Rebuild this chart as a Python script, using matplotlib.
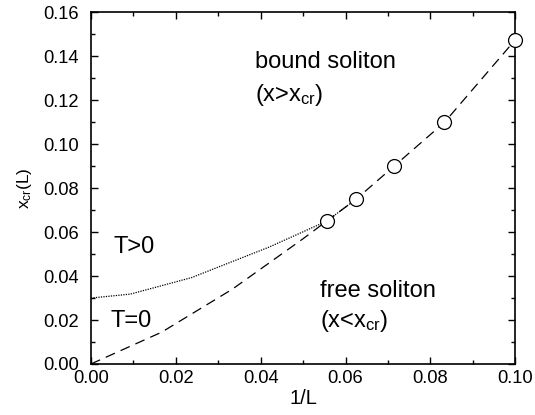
import numpy as np
import matplotlib
matplotlib.use("Agg")
import matplotlib.pyplot as plt
from matplotlib.ticker import MultipleLocator

plt.rcParams['font.family'] = ['Liberation Sans', 'DejaVu Sans']
plt.rcParams['mathtext.fontset'] = 'custom'
plt.rcParams['mathtext.rm'] = 'Liberation Sans'
plt.rcParams['mathtext.it'] = 'Liberation Sans:italic'

# Finite-size critical values x_cr(L), plotted against 1/L
L_sizes = np.array([18, 16, 14, 12, 10])
xcr_points = [0.065, 0.075, 0.090, 0.110, 0.1475]

# T=0 extrapolation curve (dashed)
t0_inv_L = [0.0, 0.0167, 0.0333, 0.050, 1/18, 1/16, 1/14, 1/12, 1/10]
t0_xcr = [0.0, 0.0145, 0.034, 0.057, 0.065, 0.075, 0.090, 0.110, 0.1475]

# T>0 curve (dotted)
tpos_inv_L = [0.0, 0.0093, 0.0237, 0.042, 1/18, 1/16]
tpos_xcr = [0.030, 0.0318, 0.0393, 0.0532, 0.065, 0.075]

fig = plt.figure(figsize=(5.35, 4.15), dpi=100)
ax = fig.add_axes([0.170, 0.123, 0.793, 0.847])

ax.plot(t0_inv_L, t0_xcr, color='black', lw=0.9, dashes=(8, 5))
ax.plot(tpos_inv_L, tpos_xcr, color='black', lw=0.9, ls=(0, (1, 1)))
ax.plot(1.0 / L_sizes, xcr_points, 'o', ms=10, mfc='white', mec='black',
        mew=0.9, clip_on=False, zorder=5)

ax.set_xlim(0, 0.1)
ax.set_ylim(0, 0.16)
ax.xaxis.set_major_locator(MultipleLocator(0.02))
ax.xaxis.set_minor_locator(MultipleLocator(0.01))
ax.yaxis.set_major_locator(MultipleLocator(0.02))
ax.yaxis.set_minor_locator(MultipleLocator(0.01))
ax.xaxis.set_major_formatter(lambda v, p: f"{v:.2f}")
ax.yaxis.set_major_formatter(lambda v, p: f"{v:.2f}")
ax.tick_params(which='both', direction='in', top=True, right=True,
               labelsize=13.2, width=1.0)
ax.tick_params(which='major', length=5)
ax.tick_params(which='minor', length=3)
ax.tick_params(axis='x', which='major', pad=4)
ax.tick_params(axis='y', which='major', pad=8.5)
for s in ax.spines.values():
    s.set_linewidth(1.2)

ax.set_xlabel('1/L', fontsize=14.5, labelpad=2)
ax.set_ylabel(r'x$_{\rm cr}$(L)', fontsize=12.5, labelpad=7)

ax.text(0.0387, 0.1375, 'bound soliton', fontsize=17, va='center')
ax.text(0.0387, 0.1225, r'(x>x$_{\rm cr}$)', fontsize=17, va='center')
ax.text(0.054, 0.033, 'free soliton', fontsize=17, va='center')
ax.text(0.054, 0.0197, r'(x<x$_{\rm cr}$)', fontsize=17, va='center')
ax.text(0.0052, 0.0534, 'T>0', fontsize=17, va='center')
ax.text(0.0045, 0.0197, 'T=0', fontsize=17, va='center')

fig.savefig('out.png', dpi=100)
